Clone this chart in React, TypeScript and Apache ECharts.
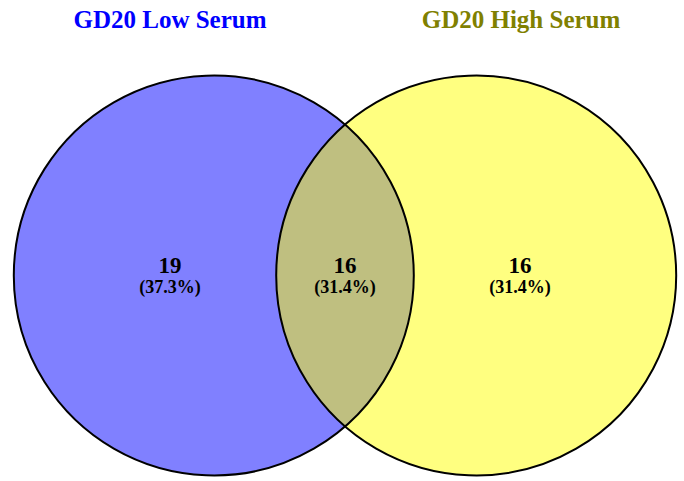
import React, { useEffect, useRef } from "react";
import * as echarts from "echarts";

// Set names and colours
const setNames = ["GD20 Low Serum", "GD20 High Serum"];
const setTitleColors = ["#0000ff", "#808000"];
const setFillColors = ["#8080ff", "#ffff80"];
const overlapColor = "#bfbf80";

// Region counts: [only Low, both, only High]
const regionCounts = [19, 16, 16];

// Layout in data units (radius = 1)
const circleCentersX = [-0.656, 0.656];
const circleRadius = 1;
const labelPositionsX = [-0.875, 0, 0.875];

export default function App() {
  const ref = useRef<HTMLDivElement>(null);
  useEffect(() => {
    if (!ref.current) return;
    document.body.style.margin = "0";
    const chart = echarts.init(ref.current, undefined, { renderer: "svg" });
    const total = regionCounts.reduce((a, b) => a + b, 0);
    const serif = "'Liberation Serif', 'DejaVu Serif', serif";

    const option: any = {
      animation: false,
      grid: { left: 0, right: 0, top: 0, bottom: 0 },
      xAxis: { type: "value", min: -1.725, max: 1.695, show: false },
      yAxis: { type: "value", min: -1.0275, max: 1.3775, show: false },
      graphic: setNames.map((name, i) => ({
        type: "text",
        x: i === 0 ? 170 : 521,
        y: 19,
        style: {
          text: name,
          font: `bold 25px ${serif}`,
          fill: setTitleColors[i],
          align: "center",
          verticalAlign: "middle",
        },
      })),
      series: [
        {
          type: "custom",
          coordinateSystem: "cartesian2d",
          data: [[0, 0]],
          renderItem: (params: any, api: any) => {
            const c0 = api.coord([circleCentersX[0], 0]);
            const c1 = api.coord([circleCentersX[1], 0]);
            const r = api.size([circleRadius, 0])[0];
            const d = c1[0] - c0[0];
            const a = d / 2;
            const h = Math.sqrt(r * r - a * a);
            const mx = (c0[0] + c1[0]) / 2;
            const cy = c0[1];
            const lens = `M ${mx} ${cy - h} A ${r} ${r} 0 0 1 ${mx} ${cy + h} A ${r} ${r} 0 0 1 ${mx} ${cy - h} Z`;
            const children: any[] = [];
            [c0, c1].forEach((c, i) => {
              children.push({
                type: "circle",
                shape: { cx: c[0], cy: c[1], r },
                style: { fill: setFillColors[i], stroke: "none" },
              });
            });
            children.push({
              type: "path",
              shape: { pathData: lens },
              style: { fill: overlapColor, stroke: "none" },
            });
            [c0, c1].forEach((c) => {
              children.push({
                type: "circle",
                shape: { cx: c[0], cy: c[1], r },
                style: { fill: "none", stroke: "#000", lineWidth: 2 },
              });
            });
            regionCounts.forEach((n, i) => {
              const p = api.coord([labelPositionsX[i], 0]);
              children.push({
                type: "text",
                x: p[0],
                y: p[1] - 10,
                style: {
                  text: String(n),
                  font: `bold 23px ${serif}`,
                  fill: "#000",
                  align: "center",
                  verticalAlign: "middle",
                },
              });
              children.push({
                type: "text",
                x: p[0],
                y: p[1] + 11,
                style: {
                  text: `(${((n / total) * 100).toFixed(1)}%)`,
                  font: `bold 18px ${serif}`,
                  fill: "#000",
                  align: "center",
                  verticalAlign: "middle",
                },
              });
            });
            return { type: "group", children };
          },
        },
      ],
    };
    chart.setOption(option);
    return () => chart.dispose();
  }, []);
  return <div ref={ref} style={{ width: 684, height: 481 }} />;
}
